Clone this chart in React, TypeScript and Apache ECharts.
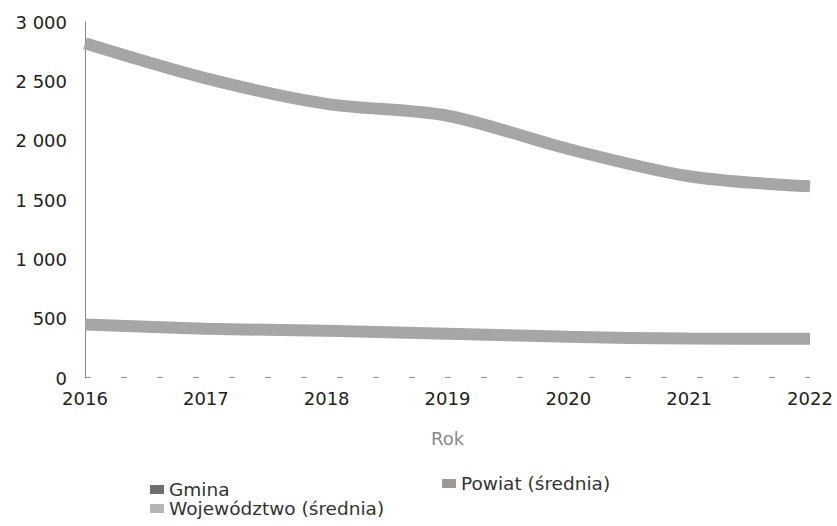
import React, { useEffect, useRef } from "react";
import * as echarts from "echarts";

const years = ["2016", "2017", "2018", "2019", "2020", "2021", "2022"];
const gmina = [5, 5, 5, 5, 5, 5, 5];
const powiat = [450, 415, 398, 373, 347, 332, 330];
const wojewodztwo = [2820, 2525, 2310, 2210, 1930, 1700, 1615];

const fmt = (v: number) => {
  const s = String(Math.round(v));
  return s.length > 3 ? s.slice(0, s.length - 3) + " " + s.slice(-3) : s;
};

export default function App() {
  const ref = useRef<HTMLDivElement>(null);
  useEffect(() => {
    document.body.style.margin = "0";
    if (!ref.current) return;
    const chart = echarts.init(ref.current, undefined, { renderer: "svg" });
    const legendText = { fontFamily: "DejaVu Sans", fontSize: 18.5, color: "#333" };
    const legendBase = {
      orient: "horizontal",
      itemWidth: 14,
      itemHeight: 9,
      itemGap: 0,
      padding: 0,
      icon: "rect",
      textStyle: legendText,
    };
    chart.setOption({
      animation: false,
      backgroundColor: "#ffffff",
      textStyle: { fontFamily: "DejaVu Sans" },
      grid: { left: 85, right: 27, top: 22, bottom: 148 },
      legend: [
        { ...legendBase, data: ["Gmina"], left: 150, top: 480 },
        { ...legendBase, data: ["Województwo (średnia)"], left: 150, top: 499 },
        { ...legendBase, data: ["Powiat (średnia)"], left: 442, top: 474 },
      ],
      xAxis: {
        type: "category",
        data: years,
        boundaryGap: false,
        axisLine: { show: false },
        axisTick: { show: false },
        axisLabel: { color: "#222", fontSize: 18, margin: 11, fontFamily: "DejaVu Sans" },
        name: "Rok",
        nameLocation: "middle",
        nameGap: 51,
        nameTextStyle: { color: "#8a8a8a", fontSize: 18, fontFamily: "DejaVu Sans" },
      },
      yAxis: {
        type: "value",
        min: 0,
        max: 3000,
        interval: 500,
        splitLine: { show: false },
        axisLine: { show: true, lineStyle: { color: "#888", width: 1 } },
        axisTick: { show: false },
        axisLabel: { color: "#222", fontSize: 18, margin: 18, formatter: fmt, fontFamily: "DejaVu Sans" },
      },
      series: [
        {
          name: "Gmina",
          type: "line",
          data: gmina,
          symbol: "none",
          color: "#6f6f6f",
          lineStyle: { width: 1, type: [6, 30], color: "#8a8a8a" },
        },
        {
          name: "Województwo (średnia)",
          type: "line",
          data: wojewodztwo,
          smooth: 0.3,
          symbol: "none",
          color: "#b4b4b4",
          lineStyle: { width: 12, color: "#a6a6a6" },
        },
        {
          name: "Powiat (średnia)",
          type: "line",
          data: powiat,
          smooth: 0.3,
          symbol: "none",
          color: "#9a9a9a",
          lineStyle: { width: 12, color: "#a6a6a6" },
        },
      ],
    });
    return () => chart.dispose();
  }, []);
  return <div ref={ref} style={{ width: 837, height: 526 }} />;
}
